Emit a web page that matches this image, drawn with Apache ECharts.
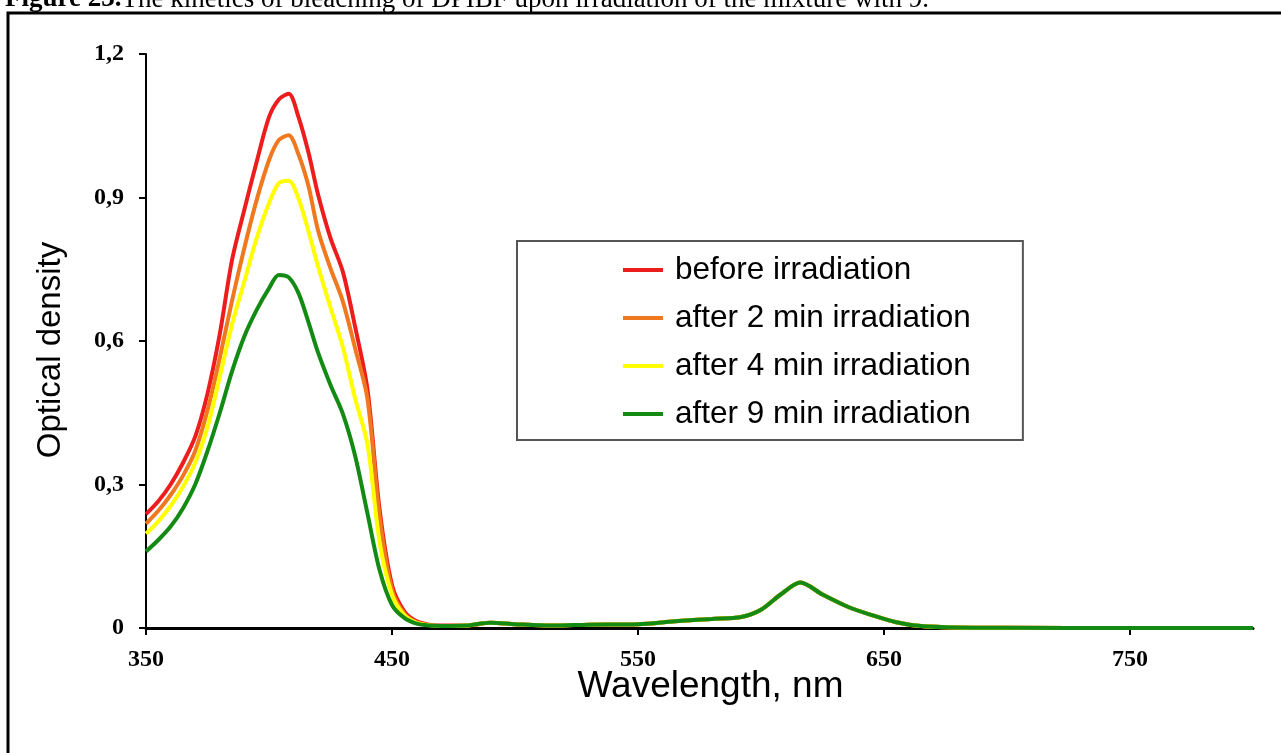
<!DOCTYPE html>
<html>
<head>
<meta charset="utf-8">
<script src="https://cdn.jsdelivr.net/npm/echarts@6/dist/echarts.min.js"></script>
<style>
  html, body { margin: 0; padding: 0; background: #fff; }
  #chart { width: 1281px; height: 753px; }
</style>
</head>
<body>
<div id="chart"></div>
<script>
// wavelength grid, nm
var wavelength = [350, 355, 360, 365, 370, 375, 380, 385, 390, 395, 400, 404, 408, 412, 416, 420, 425, 430, 435, 440, 445, 450, 455, 460, 465, 470,
  480, 490, 500, 515, 530, 550, 565, 580, 592, 600, 608, 616, 625, 635, 645, 655, 665, 680, 700, 750, 800];

// main band 350-470 nm
var before = [0.238, 0.265, 0.300, 0.345, 0.400, 0.490, 0.615, 0.770, 0.875, 0.975, 1.068, 1.105, 1.117, 1.068, 0.995, 0.905, 0.815, 0.745, 0.630, 0.500, 0.246, 0.090, 0.035, 0.014, 0.007, 0.005];
var after2 = [0.218, 0.245, 0.278, 0.318, 0.370, 0.455, 0.565, 0.685, 0.795, 0.895, 0.978, 1.020, 1.030, 0.990, 0.925, 0.830, 0.752, 0.683, 0.585, 0.480, 0.231, 0.080, 0.030, 0.012, 0.006, 0.004];
var after4 = [0.197, 0.223, 0.255, 0.295, 0.345, 0.420, 0.525, 0.635, 0.725, 0.815, 0.888, 0.930, 0.935, 0.898, 0.830, 0.755, 0.670, 0.588, 0.480, 0.385, 0.179, 0.070, 0.027, 0.011, 0.006, 0.004];
var after9 = [0.160, 0.184, 0.212, 0.250, 0.300, 0.370, 0.450, 0.537, 0.610, 0.665, 0.710, 0.738, 0.733, 0.700, 0.640, 0.575, 0.508, 0.448, 0.360, 0.240, 0.120, 0.048, 0.021, 0.009, 0.005, 0.004];
// common tail 480-800 nm (curves coincide)
var tail = [0.005, 0.011, 0.008, 0.005, 0.007, 0.008, 0.014, 0.019, 0.023, 0.038, 0.070, 0.095, 0.070, 0.045, 0.027, 0.012, 0.004, 0.001, 0.0005, 0, 0];

var names = ['before irradiation', 'after 2 min irradiation', 'after 4 min irradiation', 'after 9 min irradiation'];
var colors = ['#ee1d1d', '#f0781e', '#ffff00', '#138a13'];
var xTicks = [350, 450, 550, 650, 750];

function pairs(band) {
  var vals = band.concat(tail);
  return wavelength.map(function (w, i) { return [w, vals[i]]; });
}

var seriesArr = [];
[before, after2, after4, after9].forEach(function (band, i) {
  seriesArr.push({
    name: names[i],
    type: 'line',
    smooth: 0.3,
    showSymbol: false,
    symbol: 'none',
    lineStyle: { width: 4, color: colors[i] },
    itemStyle: { color: colors[i] },
    data: pairs(band)
  });
});

var myChart = echarts.init(document.getElementById('chart'));
var option = {
  animation: false,
  backgroundColor: '#fff',
  graphic: [
    {
      type: 'rect',
      shape: { x: 8, y: 13, width: 1400, height: 900 },
      style: { fill: 'none', stroke: '#000', lineWidth: 3 }
    },
    {
      type: 'text',
      x: 5, y: 13,
      style: {
        text: '{b|Figure 23.}The kinetics of bleaching of DPIBF upon irradiation of the mixture with 9.',
        font: '27px "Liberation Serif"',
        fill: '#000',
        verticalAlign: 'bottom',
        rich: { b: { fontWeight: 'bold', fontFamily: 'Liberation Serif', fontSize: 27 } }
      }
    }
  ],
  grid: { left: 146, right: 28, top: 54, bottom: 125 },
  legend: {
    orient: 'vertical',
    left: 517,
    top: 241,
    padding: [12, 52, 9, 106],
    backgroundColor: '#fff',
    borderColor: '#555',
    borderWidth: 2,
    itemGap: 14,
    itemWidth: 40,
    itemHeight: 4,
    icon: 'rect',
    textStyle: { fontFamily: 'Liberation Sans', fontSize: 31.5, color: '#000', lineHeight: 34, padding: [0, 0, 0, 7] },
    data: names
  },
  xAxis: {
    type: 'value',
    min: 350,
    max: 800,
    interval: 100,
    name: 'Wavelength, nm',
    nameLocation: 'middle',
    nameGap: 40,
    nameMoveOverlap: false,
    nameTextStyle: { fontFamily: 'Liberation Sans', fontSize: 37, color: '#000', padding: [0, 0, 0, 22] },
    axisLine: { lineStyle: { color: '#000', width: 3 } },
    axisTick: { length: 7, lineStyle: { color: '#000', width: 2 }, customValues: xTicks },
    axisLabel: { customValues: xTicks, margin: 20, fontFamily: 'Liberation Serif', fontWeight: 'bold', fontSize: 24, color: '#000' },
    splitLine: { show: false }
  },
  yAxis: {
    type: 'value',
    min: 0,
    max: 1.2,
    interval: 0.3,
    name: 'Optical density',
    nameLocation: 'middle',
    nameGap: 79,
    nameTextStyle: { fontFamily: 'Liberation Sans', fontSize: 33, color: '#000', padding: [0, 18, 0, 0] },
    axisLine: { show: true, lineStyle: { color: '#000', width: 2 } },
    axisTick: { show: true, length: 7, lineStyle: { color: '#000', width: 2 } },
    axisLabel: {
      margin: 22, fontFamily: 'Liberation Serif', fontWeight: 'bold', fontSize: 24, color: '#000',
      formatter: function (v) { return v === 0 ? '0' : v.toFixed(1).replace('.', ','); }
    },
    splitLine: { show: false }
  },
  series: seriesArr
};
myChart.setOption(option);
</script>
</body>
</html>
